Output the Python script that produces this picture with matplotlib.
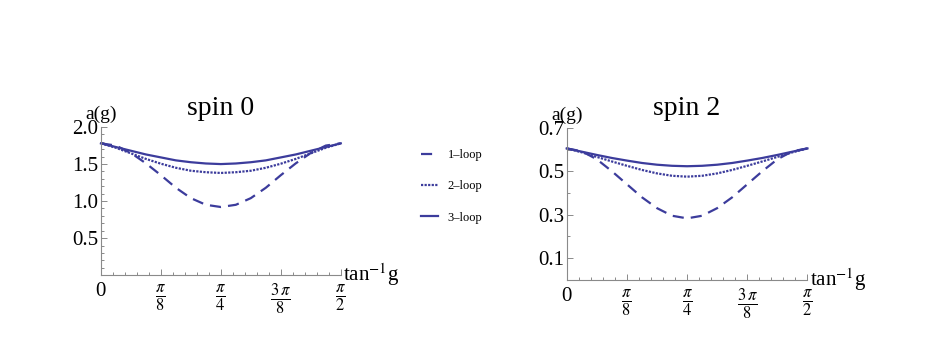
import numpy as np
import matplotlib

matplotlib.use("Agg")
import matplotlib.pyplot as plt
from matplotlib.lines import Line2D
from matplotlib.ticker import FixedLocator, MultipleLocator

plt.rcParams["font.family"] = ["Liberation Serif", "DejaVu Serif"]
plt.rcParams["mathtext.fontset"] = "stix"

# sample points of tan^-1 g, in units of pi/32 (0 .. 16)
theta_k = [0, 1, 2, 3, 4, 5, 6, 7, 8, 9, 10, 11, 12, 13, 14, 15, 16]

# spin 0
spin0_1loop = [1.78, 1.75, 1.65, 1.51, 1.35, 1.18, 1.04, 0.95, 0.92,
               0.95, 1.04, 1.18, 1.35, 1.51, 1.65, 1.75, 1.78]
spin0_2loop = [1.78, 1.72, 1.645, 1.57, 1.505, 1.45, 1.41, 1.39, 1.38,
               1.39, 1.41, 1.45, 1.505, 1.57, 1.645, 1.72, 1.78]
spin0_3loop = [1.78, 1.73, 1.68, 1.63, 1.59, 1.55, 1.525, 1.508, 1.50,
               1.508, 1.525, 1.55, 1.59, 1.63, 1.68, 1.73, 1.78]

# spin 2
spin2_1loop = [0.605, 0.592, 0.555, 0.50, 0.44, 0.38, 0.33, 0.295, 0.283,
               0.295, 0.33, 0.38, 0.44, 0.50, 0.555, 0.592, 0.605]
spin2_2loop = [0.605, 0.587, 0.566, 0.545, 0.525, 0.506, 0.49, 0.479, 0.475,
               0.479, 0.49, 0.506, 0.525, 0.545, 0.566, 0.587, 0.605]
spin2_3loop = [0.605, 0.59, 0.575, 0.561, 0.549, 0.538, 0.53, 0.525, 0.523,
               0.525, 0.53, 0.538, 0.549, 0.561, 0.575, 0.59, 0.605]

x_ticks = [0, np.pi / 8, np.pi / 4, 3 * np.pi / 8, np.pi / 2]
x_tick_labels = ["0", r"$\frac{\pi}{8}$", r"$\frac{\pi}{4}$", r"$\frac{3\,\pi}{8}$", r"$\frac{\pi}{2}$"]
loop_labels = ["1\u2013loop", "2\u2013loop", "3\u2013loop"]

LINE_COLOR = "#3c3c9c"
AXIS_COLOR = "#8a8a8a"
STYLES = [(0, (5, 3.2)), (0, (1, 0.6)), "-"]


def draw_panel(ax, series, title, ymax, yticks, yminor):
    theta = np.array(theta_k) * np.pi / 32
    for values, style in zip(series, STYLES):
        ax.plot(theta, values, color=LINE_COLOR, linestyle=style, linewidth=1.6,
                clip_on=False)
    ax.set_xlim(0, np.pi / 2)
    ax.set_ylim(0, ymax)
    for side in ("top", "right"):
        ax.spines[side].set_visible(False)
    for side in ("left", "bottom"):
        ax.spines[side].set_color(AXIS_COLOR)
        ax.spines[side].set_linewidth(0.8)
    ax.xaxis.set_major_locator(FixedLocator(x_ticks))
    ax.xaxis.set_minor_locator(MultipleLocator(np.pi / 40))
    ax.set_xticklabels(x_tick_labels)
    ax.yaxis.set_major_locator(FixedLocator(yticks))
    ax.yaxis.set_minor_locator(MultipleLocator(yminor))
    ax.set_yticklabels([f"{v:.1f}" for v in yticks])
    ax.tick_params(which="both", direction="in", color=AXIS_COLOR, width=0.7)
    ax.tick_params(which="major", length=4)
    ax.tick_params(which="minor", length=2.2)
    ax.tick_params(axis="y", labelsize=15, pad=2)
    ax.tick_params(axis="x", labelsize=15, pad=5)
    for lbl in ax.get_xticklabels()[1:]:
        lbl.set_fontsize(17)
    ax.get_xticklabels()[0].set_va("top")
    ax.annotate("a(g)", xy=(0, 1.0), xycoords="axes fraction", xytext=(0, 3),
                textcoords="offset points", ha="center", va="bottom", fontsize=14)
    ax.text(1.01, 0.0, r"tan$^{-1}$g", transform=ax.transAxes, ha="left",
            va="center", fontsize=15)
    ax.set_title(title, fontsize=20, pad=9)


fig = plt.figure(figsize=(9.26, 3.62), dpi=100)
ax0 = fig.add_axes([0.109, 0.240, 0.259, 0.409])
ax1 = fig.add_axes([0.612, 0.227, 0.260, 0.420])

draw_panel(ax0, [spin0_1loop, spin0_2loop, spin0_3loop], "spin 0", 2.0,
           [0.5, 1.0, 1.5, 2.0], 0.1)
draw_panel(ax1, [spin2_1loop, spin2_2loop, spin2_3loop], "spin 2", 0.7,
           [0.1, 0.3, 0.5, 0.7], 0.1)

handles = [Line2D([], [], color=LINE_COLOR, linestyle=s, linewidth=1.6) for s in STYLES]
fig.legend(handles, loop_labels, loc="center left", bbox_to_anchor=(0.443, 0.485),
           frameon=False, fontsize=9, handlelength=1.3, labelspacing=1.55,
           handletextpad=0.8)

fig.savefig("out.png", dpi=100)
